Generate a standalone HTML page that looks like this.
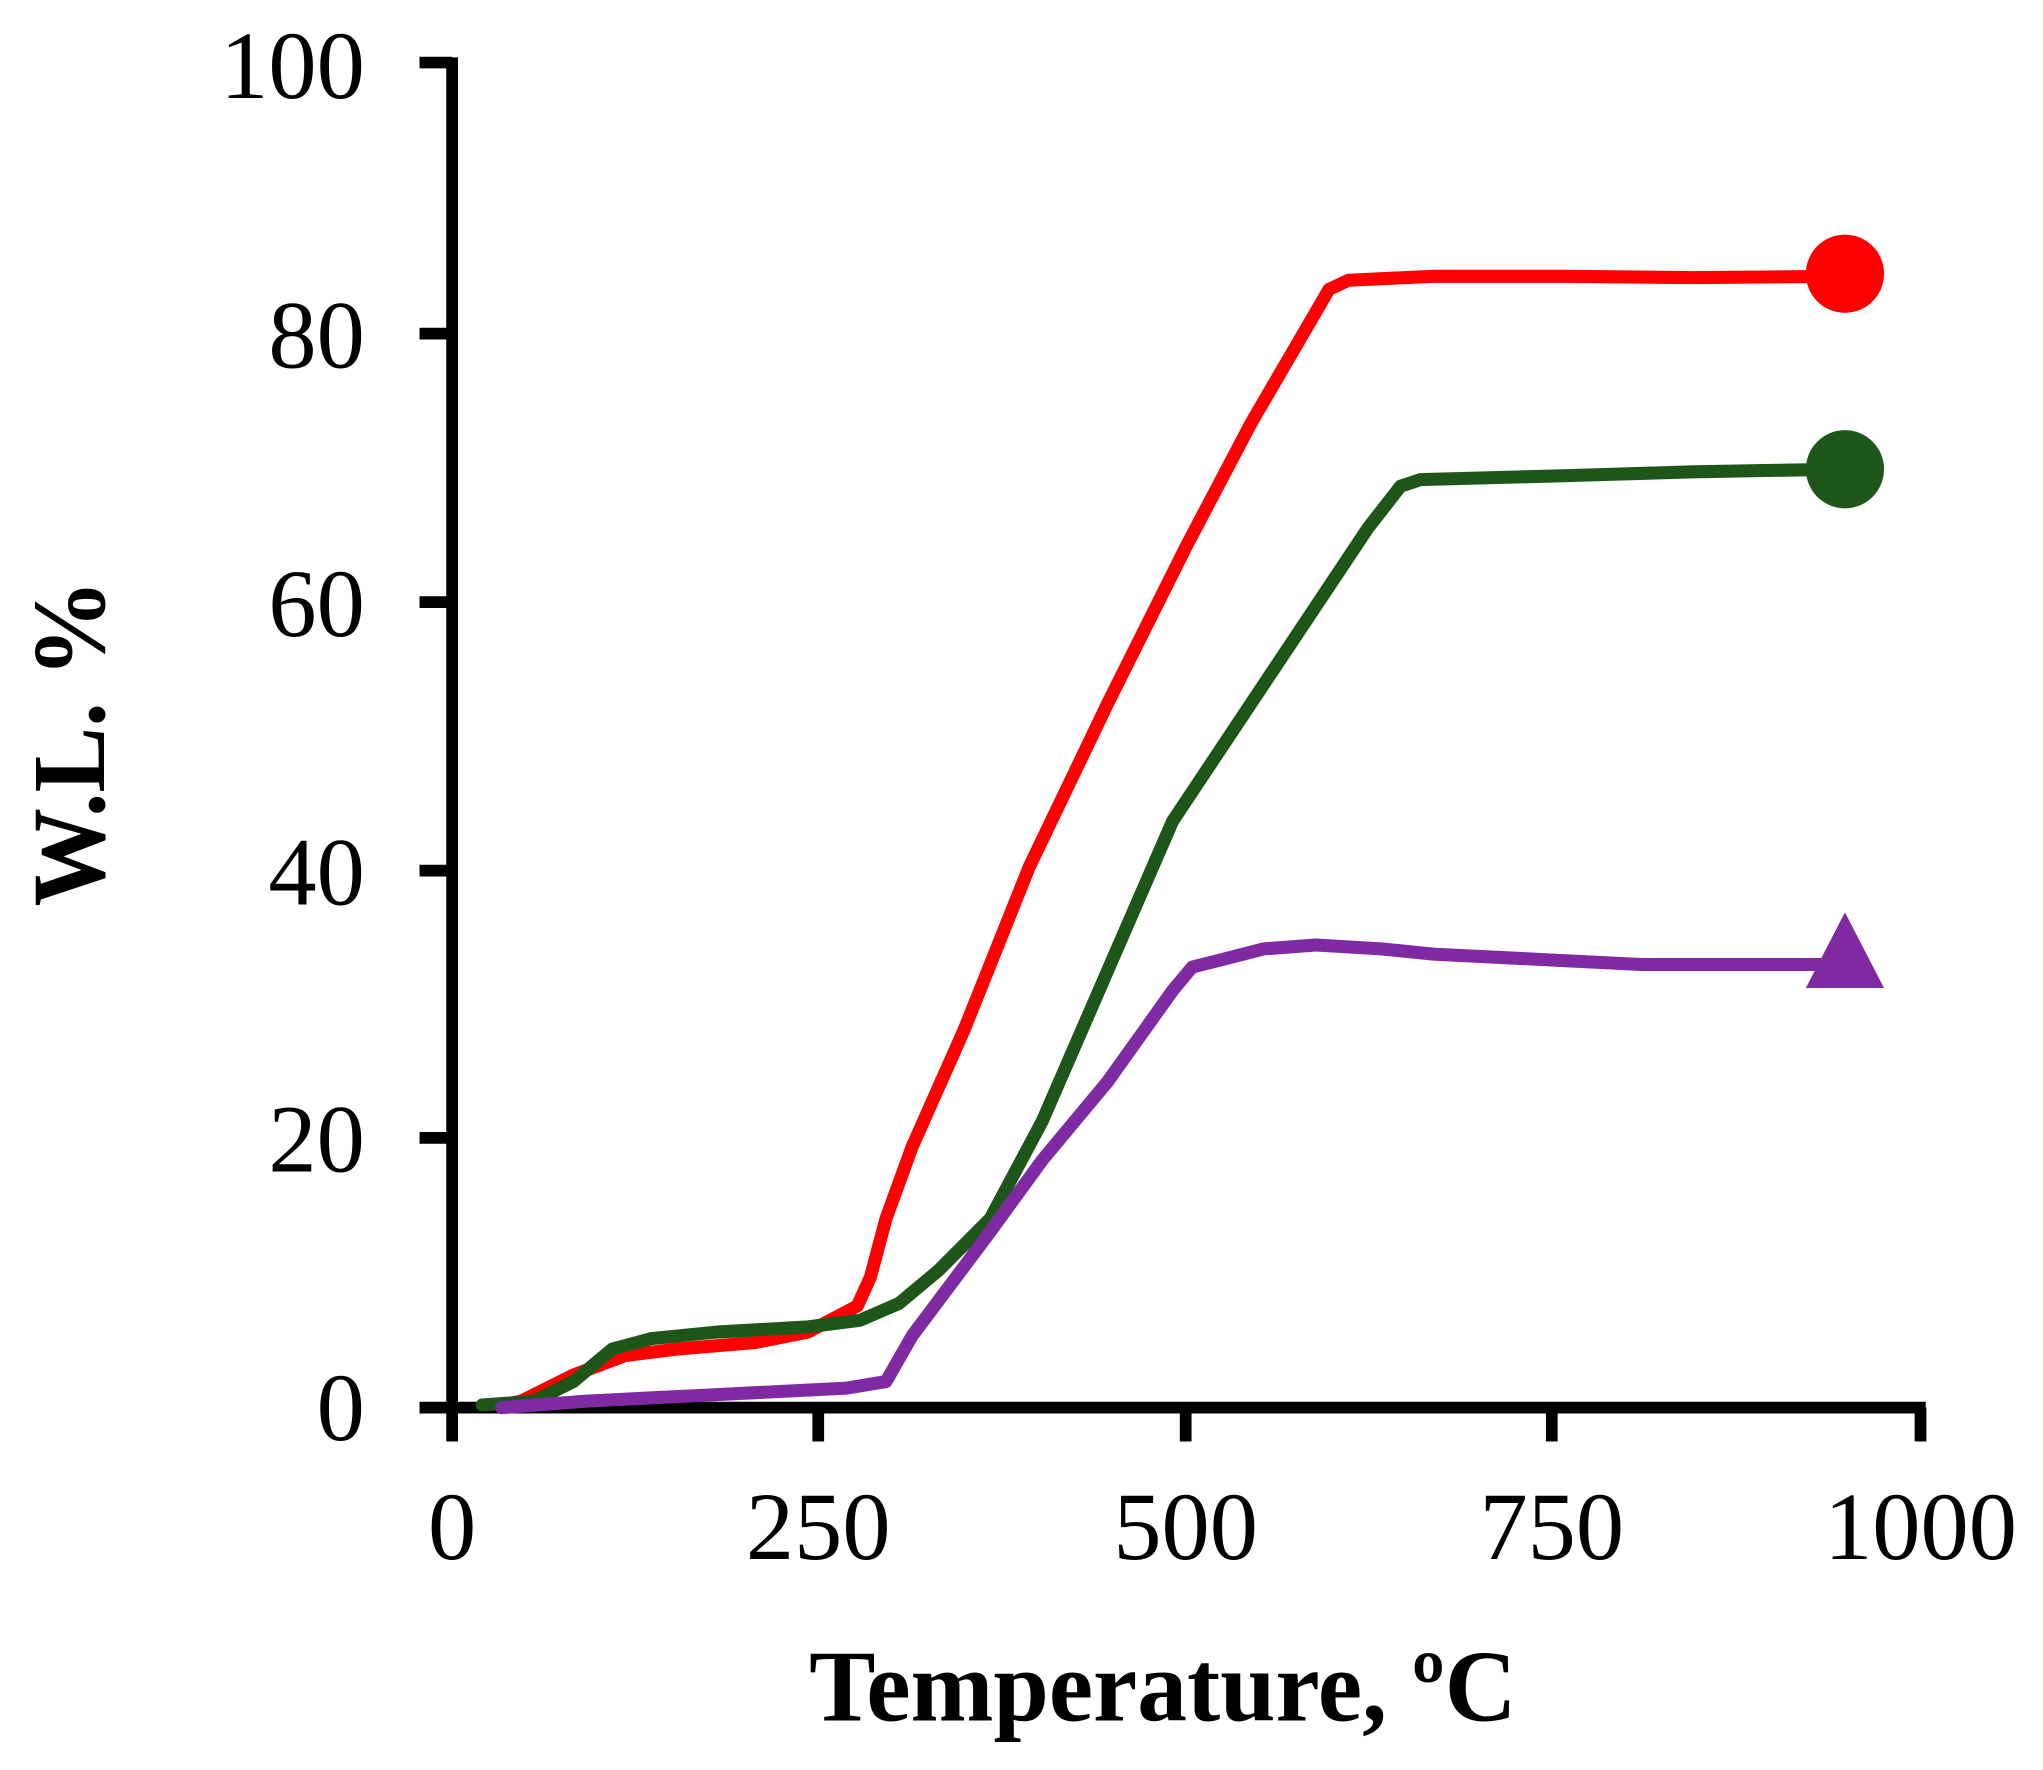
<!DOCTYPE html>
<html><head><meta charset="utf-8"><style>html,body{margin:0;padding:0;background:#fff}svg{display:block}</style></head>
<body>
<svg width="2043" height="1770" viewBox="0 0 1568 1358" preserveAspectRatio="none" xmlns="http://www.w3.org/2000/svg">
<rect width="1568" height="1358" fill="#fff"/>
<g stroke="#000" stroke-width="9" fill="none">
<line x1="347" y1="44" x2="347" y2="1106"/>
<line x1="322" y1="1080" x2="1478" y2="1080"/>
<line x1="322" y1="48" x2="347" y2="48"/>
<line x1="322" y1="256" x2="347" y2="256"/>
<line x1="322" y1="462" x2="347" y2="462"/>
<line x1="322" y1="668" x2="347" y2="668"/>
<line x1="322" y1="873" x2="347" y2="873"/>
<line x1="628" y1="1080" x2="628" y2="1106"/>
<line x1="910" y1="1080" x2="910" y2="1106"/>
<line x1="1191" y1="1080" x2="1191" y2="1106"/>
<line x1="1474" y1="1080" x2="1474" y2="1106"/>
</g>
<g font-family="Liberation Serif, serif" font-size="74" fill="#000">
<g text-anchor="end">
<text x="280" y="75">100</text>
<text x="280" y="282">80</text>
<text x="280" y="488">60</text>
<text x="280" y="694">40</text>
<text x="280" y="899">20</text>
<text x="280" y="1105">0</text>
</g>
<g text-anchor="middle">
<text x="347" y="1196">0</text>
<text x="628" y="1196">250</text>
<text x="910" y="1196">500</text>
<text x="1191" y="1196">750</text>
<text x="1474" y="1196">1000</text>
</g>
</g>
<text x="621" y="1320" font-family="Liberation Serif, serif" font-weight="bold" font-size="78" textLength="543" lengthAdjust="spacingAndGlyphs">Temperature, ºC</text>
<text transform="translate(80,570) rotate(-90)" text-anchor="middle" font-family="Liberation Serif, serif" font-weight="bold" font-size="80" textLength="251" lengthAdjust="spacingAndGlyphs">W.L. %</text>
<g fill="none" stroke-width="10" stroke-linejoin="round" stroke-linecap="round">
<polyline stroke="#ff0000" points="385,1078 400,1075 440,1055 480,1040 520,1035 580,1030 620,1022 658,1002 668,980 680,935 700,880 740,790 790,665 850,540 910,420 960,325 1020,222 1035,215 1100,212 1200,212 1300,213 1410,212"/>
<polyline stroke="#1e561a" points="370,1078 410,1075 440,1060 470,1035 500,1027 550,1022 620,1018 660,1013 690,1000 720,975 760,935 800,860 850,745 900,630 950,555 1000,480 1050,405 1075,373 1090,368 1200,365 1300,362 1410,360"/>
<polyline stroke="#7f2aa3" points="385,1080 450,1075 550,1070 650,1065 680,1060 700,1025 730,985 760,945 800,890 850,830 900,760 915,742 935,737 970,728 1010,725 1060,728 1100,732 1200,737 1260,740 1400,740"/>
</g>
<circle cx="1416" cy="210" r="30" fill="#ff0000"/>
<circle cx="1416" cy="360" r="30" fill="#1e561a"/>
<polygon points="1386,758 1446,758 1416,700" fill="#7f2aa3"/>
</svg>
</body></html>
